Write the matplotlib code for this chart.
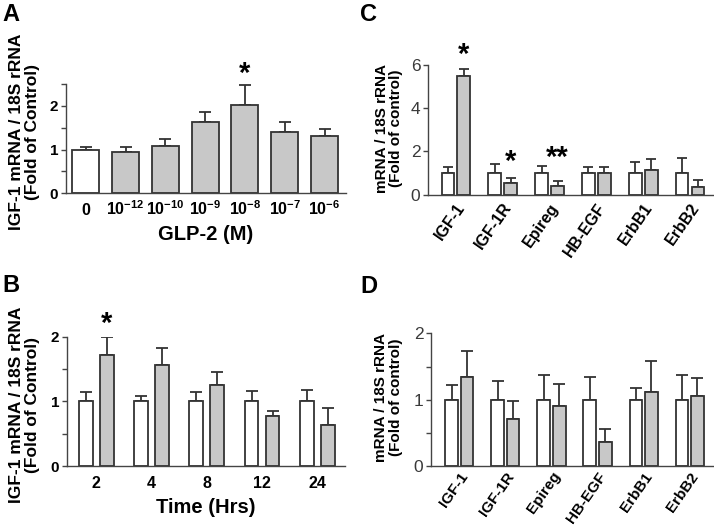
import matplotlib
matplotlib.use("Agg")
import matplotlib.pyplot as plt
import numpy as np

plt.rcParams['font.family'] = ['Liberation Sans', 'DejaVu Sans']
plt.rcParams['mathtext.fontset'] = 'custom'
plt.rcParams['mathtext.rm'] = 'Liberation Sans'
plt.rcParams['mathtext.bf'] = 'Liberation Sans:bold'

# ---------------- data ----------------
# Panel A: dose response
a_labels = [r'$\mathbf{0}$', r'$\mathbf{10^{-12}}$', r'$\mathbf{10^{-10}}$', r'$\mathbf{10^{-9}}$',
            r'$\mathbf{10^{-8}}$', r'$\mathbf{10^{-7}}$', r'$\mathbf{10^{-6}}$']
a_vals = [1.00, 0.94, 1.08, 1.63, 2.02, 1.41, 1.31]
a_errtop = [1.07, 1.07, 1.25, 1.87, 2.47, 1.63, 1.46]

# Panel B: time course
b_labels = ['2', '4', '8', '12', '24']
b_ctrl = [1.0, 1.0, 1.0, 1.0, 1.0]
b_ctrl_errtop = [1.15, 1.09, 1.15, 1.16, 1.18]
b_glp = [1.72, 1.56, 1.26, 0.77, 0.64]
b_glp_errtop = [1.99, 1.83, 1.45, 0.85, 0.90]

# Panel C
genes = ['IGF-1', 'IGF-1R', 'Epireg', 'HB-EGF', 'ErbB1', 'ErbB2']
c_ctrl = [1.0, 1.0, 1.0, 1.0, 1.0, 1.0]
c_ctrl_errtop = [1.30, 1.41, 1.35, 1.30, 1.50, 1.70]
c_trt = [5.48, 0.52, 0.41, 1.00, 1.16, 0.37]
c_trt_errtop = [5.83, 0.76, 0.64, 1.30, 1.64, 0.67]

# Panel D
d_ctrl = [1.0, 1.0, 1.0, 1.0, 1.0, 1.0]
d_ctrl_errtop = [1.22, 1.29, 1.38, 1.34, 1.17, 1.38]
d_trt = [1.34, 0.71, 0.90, 0.36, 1.12, 1.06]
d_trt_errtop = [1.74, 0.98, 1.23, 0.56, 1.58, 1.33]

EDGE = '#333333'
GRAY = '#c8c8c8'

fig = plt.figure(figsize=(7.14, 5.27), dpi=100)

axA = fig.add_axes([0.0924, 0.6332, 0.3922, 0.2074])
axB = fig.add_axes([0.0938, 0.1157, 0.3894, 0.2454])
axC = fig.add_axes([0.5994, 0.6305, 0.4006, 0.2461])
axD = fig.add_axes([0.6036, 0.1157, 0.3964, 0.2516])


def style(ax, bold_ticks):
    for s in ['top', 'right']:
        ax.spines[s].set_visible(False)
    for s in ['left', 'bottom']:
        ax.spines[s].set_color('#444444')
        ax.spines[s].set_linewidth(1.0)
    ax.tick_params(axis='y', direction='out', length=3.5, width=1.0, color='#444444', pad=2)
    ax.tick_params(axis='x', length=0)
    if bold_ticks:
        for t in ax.get_yticklabels():
            t.set_fontweight('bold')
            t.set_fontsize(11)
    else:
        for t in ax.get_yticklabels():
            t.set_fontsize(12.5)
            t.set_color('#3a3a3a')


def upper_err(ax, x, vals, tops, capsize):
    vals = np.asarray(vals)
    tops = np.asarray(tops)
    ax.errorbar(x, tops, yerr=[tops - vals, np.zeros_like(vals)], fmt='none',
                ecolor=EDGE, elinewidth=1.3, capsize=capsize, capthick=1.3, zorder=1)


# ---------------- Panel A ----------------
xa = np.arange(len(a_vals))
colsA = ['white'] + [GRAY] * (len(a_vals) - 1)
upper_err(axA, xa, a_vals, a_errtop, 4.5)
axA.bar(xa, a_vals, width=0.68, color=colsA, edgecolor=EDGE, linewidth=1.3, zorder=2)
axA.set_xlim(-0.5, 6.54)
axA.set_ylim(0, 2.5)
axA.set_yticks([0, 0.5, 1, 1.5, 2, 2.5])
axA.set_yticklabels(['0', '', '1', '', '2', ''])
axA.set_xticks(xa)
axA.set_xticklabels(a_labels, fontsize=11.5, fontweight='bold')
for t in axA.get_xticklabels():
    t.set_va('baseline')
axA.tick_params(axis='x', pad=15.5)
style(axA, True)
axA.set_xlabel('GLP-2 (M)', fontsize=14.5, fontweight='bold', labelpad=5)
axA.set_ylabel('IGF-1 mRNA / 18S rRNA\n(Fold of Control)', fontsize=12.5,
               fontweight='bold', linespacing=1.05)
axA.yaxis.set_label_coords(-0.093, 0.565)
axA.text(4, 2.72, '*', ha='center', va='center', fontsize=21, fontweight='bold', clip_on=False)

# ---------------- Panel B ----------------
xb = np.arange(len(b_labels))
off_b = 0.19
upper_err(axB, xb - off_b, b_ctrl, b_ctrl_errtop, 4)
upper_err(axB, xb + off_b, b_glp, b_glp_errtop, 4)
axB.bar(xb - off_b, b_ctrl, width=0.248, color='white', edgecolor=EDGE, linewidth=1.3, zorder=2)
axB.bar(xb + off_b, b_glp, width=0.248, color=GRAY, edgecolor=EDGE, linewidth=1.3, zorder=2)
axB.set_xlim(-0.53, 4.5)
axB.set_ylim(0, 2)
axB.set_yticks([0, 0.5, 1, 1.5, 2])
axB.set_yticklabels(['0', '', '1', '', '2'])
axB.set_xticks(xb)
axB.set_xticklabels(b_labels, fontsize=11.5, fontweight='bold')
for t in axB.get_xticklabels():
    t.set_va('baseline')
axB.tick_params(axis='x', pad=16)
style(axB, True)
axB.set_xlabel('Time (Hrs)', fontsize=14.5, fontweight='bold', labelpad=5)
axB.set_ylabel('IGF-1 mRNA / 18S rRNA\n(Fold of Control)', fontsize=12.5,
               fontweight='bold', linespacing=1.05)
axB.yaxis.set_label_coords(-0.097, 0.47)
axB.text(0 + off_b, 2.2, '*', ha='center', va='center', fontsize=21, fontweight='bold', clip_on=False)

# ---------------- Panel C ----------------
xc = np.arange(len(genes))
off_c = 0.17
upper_err(axC, xc - off_c, c_ctrl, c_ctrl_errtop, 3.5)
upper_err(axC, xc + off_c, c_trt, c_trt_errtop, 3.5)
axC.bar(xc - off_c, c_ctrl, width=0.27, color='white', edgecolor=EDGE, linewidth=1.3, zorder=2)
axC.bar(xc + off_c, c_trt, width=0.27, color=GRAY, edgecolor=EDGE, linewidth=1.3, zorder=2)
axC.set_xlim(-0.595, 5.51)
axC.set_ylim(0, 6)
axC.set_yticks([0, 2, 4, 6])
axC.set_xticks(xc)
axC.set_xticklabels(genes, fontsize=11.5, fontweight='bold', rotation=55,
                    ha='right', rotation_mode='anchor')
axC.tick_params(axis='x', pad=4)
style(axC, False)
axC.set_ylabel('mRNA / 18S rRNA\n(Fold of control)', fontsize=11,
               fontweight='bold', linespacing=1.05)
axC.yaxis.set_label_coords(-0.087, 0.514)
axC.text(0 + off_c, 6.45, '*', ha='center', va='center', fontsize=21, fontweight='bold', clip_on=False)
axC.text(1 + off_c, 1.5, '*', ha='center', va='center', fontsize=21, fontweight='bold', clip_on=False)
axC.text(2 + off_c, 1.7, '**', ha='center', va='center', fontsize=21, fontweight='bold', clip_on=False)

# ---------------- Panel D ----------------
xd = np.arange(len(genes))
off_d = 0.17
upper_err(axD, xd - off_d, d_ctrl, d_ctrl_errtop, 4)
upper_err(axD, xd + off_d, d_trt, d_trt_errtop, 4)
axD.bar(xd - off_d, d_ctrl, width=0.27, color='white', edgecolor=EDGE, linewidth=1.3, zorder=2)
axD.bar(xd + off_d, d_trt, width=0.27, color=GRAY, edgecolor=EDGE, linewidth=1.3, zorder=2)
axD.set_xlim(-0.617, 5.53)
axD.set_ylim(0, 2)
axD.set_yticks([0, 0.5, 1, 1.5, 2])
axD.set_yticklabels(['0', '', '1', '', '2'])
axD.set_xticks(xd)
axD.set_xticklabels(genes, fontsize=11, fontweight='bold', rotation=55,
                    ha='right', rotation_mode='anchor')
axD.tick_params(axis='x', pad=2.5)
style(axD, False)
axD.set_ylabel('mRNA / 18S rRNA\n(Fold of control)', fontsize=11,
               fontweight='bold', linespacing=1.05)
axD.yaxis.set_label_coords(-0.099, 0.517)

# panel letters
for letter, (x, y) in zip('ABCD', [(2, 3), (2, 274), (360, 3), (360, 275)]):
    fig.text(x / 714, 1 - y / 527, letter, fontsize=17, fontweight='bold', ha='left', va='top')

fig.savefig('out.png', dpi=100)
